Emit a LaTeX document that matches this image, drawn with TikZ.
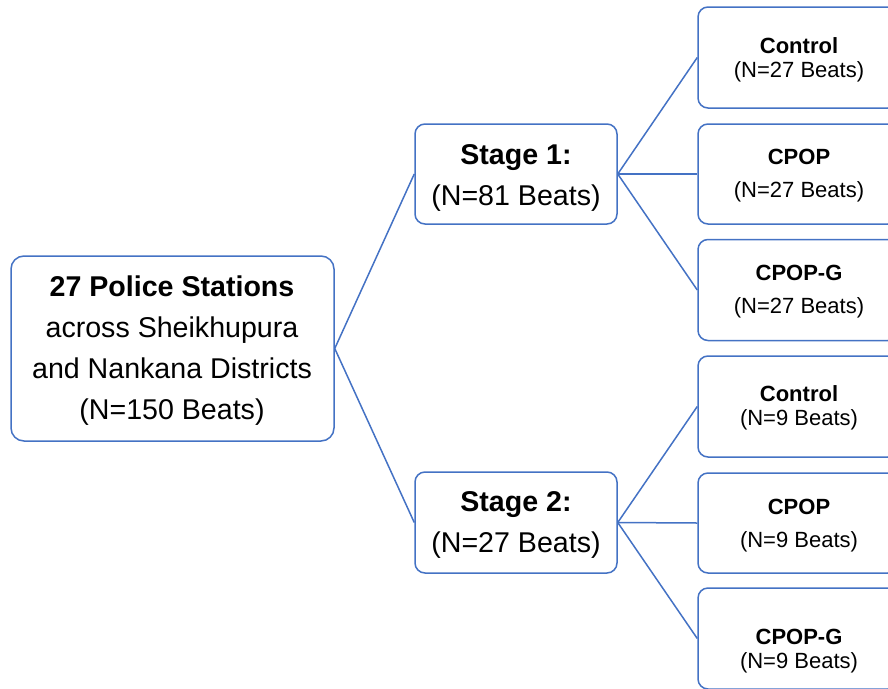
\documentclass[tikz,border=0pt]{standalone}
\usepackage{fontspec}
\setmainfont{Liberation Sans}
\definecolor{obox}{HTML}{4472C4}
\tikzset{
  box/.style={draw=obox, line width=1.5pt, rounded corners=10pt, fill=white, inner sep=0pt},
  big/.style={font=\fontsize{28.6}{41}\selectfont, align=center, inner sep=0pt},
  small/.style={font=\fontsize{22}{24}\selectfont, align=center, inner sep=0pt},
  smallw/.style={font=\fontsize{22}{33}\selectfont, align=center, inner sep=0pt},
  link/.style={draw=obox, line width=1.5pt}
}
\begin{document}
\begin{tikzpicture}[x=1pt,y=-1pt]
\useasboundingbox (0,0) rectangle (888,688);
\clip (0,0) rectangle (888,688);
% boxes
\node[box, rounded corners=13pt, minimum width=323pt, minimum height=185pt] (main) at (172.5,348.5) {};
\node[box, minimum width=202pt, minimum height=100pt] (s1) at (516,174) {};
\node[box, minimum width=202pt, minimum height=101pt] (s2) at (516,522.5) {};
\node[box, minimum width=200pt, minimum height=101pt] (c1) at (798,57.5) {};
\node[box, minimum width=200pt, minimum height=100pt] (p1) at (798,174) {};
\node[box, minimum width=200pt, minimum height=101pt] (g1) at (798,290) {};
\node[box, minimum width=200pt, minimum height=101pt] (c2) at (798,406.5) {};
\node[box, minimum width=200pt, minimum height=100pt] (p2) at (798,523) {};
\node[box, minimum width=200pt, minimum height=101pt] (g2) at (798,638.5) {};
% texts
\node[big] (maint) at (172,351) {\textbf{27 Police Stations}\\across Sheikhupura\\and Nankana Districts\\(N=150 Beats)};
\node[big] (s1t) at (516,177.5) {\textbf{Stage 1:}\\(N=81 Beats)};
\node[big] (s2t) at (516,524.5) {\textbf{Stage 2:}\\(N=27 Beats)};
\node[small] (c1t) at (799,60) {\textbf{Control}\\(N=27 Beats)};
\node[smallw] (p1t) at (799,176) {\textbf{CPOP}\\(N=27 Beats)};
\node[smallw] (g1t) at (799,291.5) {\textbf{CPOP-G}\\(N=27 Beats)};
\node[small] (c2t) at (799,408) {\textbf{Control}\\(N=9 Beats)};
\node[smallw] (p2t) at (799,525.5) {\textbf{CPOP}\\(N=9 Beats)};
\node[small] (g2t) at (799,651.5) {\textbf{CPOP-G}\\(N=9 Beats)};
% connectors
\draw[link] (main.east) -- (s1.west);
\draw[link] (main.east) -- (s2.west);
\draw[link] (s1.east) -- (c1.west);
\draw[link] (s1.east) -- (p1.west);
\draw[link] (s1.east) -- (g1.west);
\draw[link] (s2.east) -- (c2.west);
\draw[link] (s2.east) -- (p2.west);
\draw[link] (s2.east) -- (g2.west);
\end{tikzpicture}
\end{document}
